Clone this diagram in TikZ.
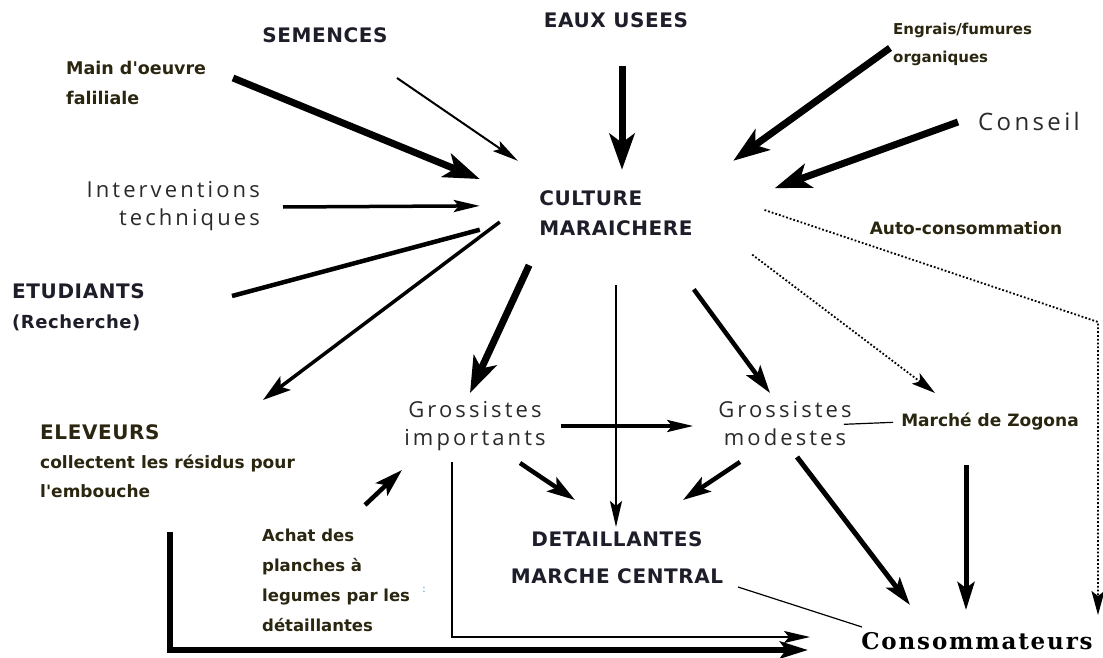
\documentclass[tikz,border=0pt]{standalone}
\usepackage{fontspec}
\usetikzlibrary{arrows.meta}
\newfontfamily\capsfont[LetterSpace=3]{DejaVu Sans}
\newfontfamily\labfont{DejaVu Sans}
\newfontfamily\softfont[LetterSpace=14]{Open Sans}
\newfontfamily\consfont[LetterSpace=8]{DejaVu Serif}
\definecolor{capink}{HTML}{1E1E2A}
\definecolor{labink}{HTML}{2A2610}
\definecolor{softink}{HTML}{2A2A2A}
\definecolor{dotink}{HTML}{3399DD}
\tikzset{
	caps/.style={inner sep=0pt, align=left, text=capink, font=\capsfont\bfseries\fontsize{20}{30}\selectfont},
	lab/.style={inner sep=0pt, align=left, text=labink, font=\labfont\bfseries\fontsize{17}{29}\selectfont},
	soft/.style={inner sep=0pt, align=center, text=softink, font=\softfont\fontsize{22}{28}\selectfont},
	fat/.style={line width=7pt, -{Stealth[length=36pt, width=25pt, inset=9pt]}},
	mid/.style={line width=4.5pt, -{Stealth[length=28pt, width=17pt, inset=6pt]}},
	slim/.style={line width=2.5pt, -{Stealth[length=26pt, width=12pt, inset=5pt]}},
	dotarrow/.style={line width=1.8pt, dotted, -{Stealth[length=24pt, width=13pt, inset=5pt]}}
}

\begin{document}
\begin{tikzpicture}[x=1pt, y=-1pt]
	\path[fill=white] (0,0) rectangle (1103,658);
	\useasboundingbox (0,0) rectangle (1103,658);
	% inputs
	\node[caps] (semences) at (325,35) {SEMENCES};
	\node[caps] (eaux) at (616,20) {EAUX USEES};
	\node[lab, anchor=west, font=\labfont\bfseries\fontsize{15}{28}\selectfont] (engrais) at (893,44) {Engrais/fumures\\organiques};
	\node[lab, anchor=west, font=\labfont\bfseries\fontsize{17.5}{30}\selectfont] (main) at (66,83) {Main d'oeuvre\\faliliale};
	\node[soft, font=\softfont\fontsize{24}{28}\selectfont] (conseil) at (1029,122) {Conseil};
	\node[soft, anchor=east, align=right] (interv) at (260,206) {Interventions\\techniques};
	\node[caps, minimum width=272pt, minimum height=104pt] (cult) at (616,213) {CULTURE\\MARAICHERE};
	\node[lab] (auto) at (966,228) {Auto-consommation};
	\node[caps, anchor=west] (etud) at (12,307) {ETUDIANTS\\{\fontsize{18}{30}\selectfont(Recherche)}};
	% outputs
	\node[soft] (gi) at (475,426) {Grossistes\\importants};
	\node[soft] (gm) at (785,424) {Grossistes\\modestes};
	\node[lab] (zog) at (990,422) {Marché de Zogona};
	\node[lab, anchor=west] (elev) at (40,461) {{\capsfont\fontsize{20}{29}\selectfont ELEVEURS}\\collectent les résidus pour\\l'embouche};
	\node[lab, anchor=west, font=\labfont\bfseries\fontsize{16.5}{30}\selectfont] (achat) at (262,580) {Achat des\\planches à\\legumes par les\\détaillantes};
	\node[inner sep=0pt, text=dotink, font=\labfont\fontsize{10}{10}\selectfont] (colon) at (424,590) {:};
	\node[caps, align=center] (det) at (617,558) {DETAILLANTES\\[7pt]MARCHE CENTRAL};
	\node[inner sep=0pt, font=\consfont\bfseries\fontsize{23}{26}\selectfont] (cons) at (977,641) {Consommateurs};
	\coordinate (bend) at (1098,322);
	% towards the crop
	\draw[fat] ([xshift=167pt,yshift=5pt]main.west) -- (cult.166);
	\draw[slim, line width=2pt] ([xshift=72pt,yshift=-43pt]semences.center) -- (cult.152);
	\draw[fat, shorten >=-9pt] ([xshift=6pt,yshift=-46pt]eaux.center) -- ([xshift=6pt]eaux.center |- cult.north);
	\draw[fat] ([xshift=-3pt,yshift=-4pt]engrais.west) -- (cult.24);
	\draw[fat, shorten >=24pt] ([xshift=-71pt]conseil.center) -- (cult.7);
	\draw[slim, line width=3.5pt] ([xshift=23pt,yshift=-1pt]interv.east) -- (cult.177);
	\draw[line width=4.5pt] ([xshift=220pt,yshift=11pt]etud.west) -- (cult.187);
	% out of the crop
	\draw[mid, line width=3.5pt, shorten <=-25pt] (cult.190) -- ([xshift=223pt,yshift=61pt]elev.west);
	\draw[fat] (cult.211) -- ([xshift=-5pt,yshift=33pt]gi.center);
	\draw[slim, line width=2pt, shorten <=20pt, shorten >=31pt] (cult.south) -- (cult.south |- det.center);
	\draw[mid, shorten <=30pt] (cult.319) -- ([xshift=-15pt,yshift=31pt]gm.center);
	\draw[dotarrow] (cult.-17) -- ([xshift=-55pt,yshift=29pt]zog.center);
	\draw[dotarrow, shorten <=13pt, shorten >=26pt] (cult.3) -- (bend) -- (bend |- cons.center);
	% traders
	\draw[slim, line width=3.5pt, shorten <=15pt, shorten >=25pt] (gi.east) -- (gi.east -| gm.west);
	\draw[mid] ([xshift=45pt,yshift=-37pt]gi.center) -- ([xshift=-42pt,yshift=58pt]det.center);
	\draw[mid] ([xshift=-45pt,yshift=-38pt]gm.center) -- ([xshift=66pt,yshift=58pt]det.center);
	\draw[line width=1.2pt, shorten <=-8pt, shorten >=8pt] (gm.east) -- (zog.west);
	\draw[mid, line width=5pt] ([xshift=12pt,yshift=-33pt]gm.center) -- ([xshift=-67pt,yshift=36pt]cons.center);
	\draw[mid, line width=5pt, shorten >=31pt] ([xshift=-24pt,yshift=-43pt]zog.center) -- ([xshift=-24pt]zog.center |- cons.center);
	\draw[line width=1.2pt] ([xshift=121pt,yshift=-29pt]det.center) -- ([xshift=-115pt,yshift=14pt]cons.center);
	\draw[mid] ([xshift=103pt,yshift=75pt]achat.west) -- ([xshift=-73pt,yshift=-44pt]gi.center);
	% to the consumers
	\draw[slim, line width=2pt] ([xshift=-23pt,yshift=-36pt]gi.center) |- ([xshift=-167pt,yshift=4pt]cons.center);
	\draw[mid, line width=6pt] ([xshift=130pt,yshift=-71pt]elev.west) |- ([xshift=-169pt,yshift=-9pt]cons.center);
\end{tikzpicture}
\end{document}
